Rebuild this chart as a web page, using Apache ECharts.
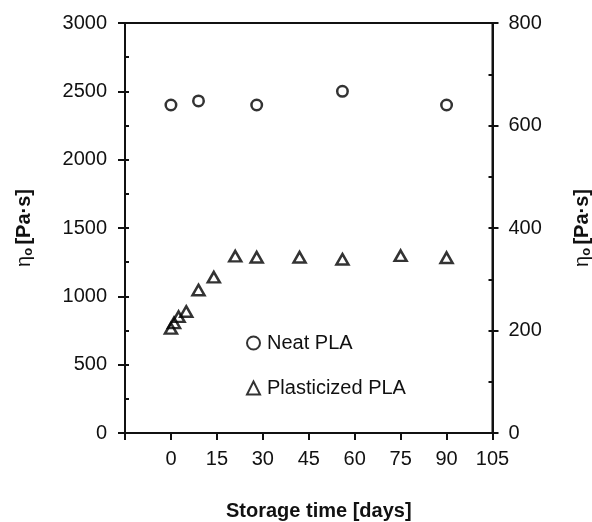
<!DOCTYPE html>
<html>
<head>
<meta charset="utf-8">
<script src="https://cdn.jsdelivr.net/npm/echarts@6/dist/echarts.min.js"></script>
<style>
  html, body { margin: 0; padding: 0; background: #fff; }
  #chart { width: 592px; height: 522px; }
</style>
</head>
<body>
<div id="chart"></div>
<script>
// Zero-shear viscosity vs. storage time
const neatDays = [0, 9, 28, 56, 90];
const neatEta = [2400, 2430, 2400, 2500, 2400];          // left axis, Pa·s

const plastDays = [0, 1, 2.5, 5, 9, 14, 21, 28, 42, 56, 75, 90];
const plastEta = [204, 215, 227, 237, 279, 304, 345, 343, 343, 339, 346, 342]; // right axis, Pa·s

const xTicks = [-15, 0, 15, 30, 45, 60, 75, 90, 105];
const leftTicks = [0, 500, 1000, 1500, 2000, 2500, 3000];
const rightTicks = [0, 200, 400, 600, 800];

const FONT = '"Liberation Sans", Arial, sans-serif';
const INK = '#111';
const MARK = '#000';

const pair = (xs, ys) => xs.map((x, i) => [x, ys[i]]);
const plain = v => String(v);

const etaName = {
  name: '{e|η}{s|o} {b|[Pa·s]}',
  nameLocation: 'middle',
  nameRotate: 90,
  nameTextStyle: {
    rich: {
      e: { fontFamily: FONT, fontSize: 20, color: INK },
      s: { fontFamily: FONT, fontSize: 13, fontWeight: 'bold', color: INK, padding: [8, 0, 0, 0] },
      b: { fontFamily: FONT, fontSize: 20, fontWeight: 'bold', color: INK }
    }
  }
};

const chart = echarts.init(document.getElementById('chart'), null, { renderer: 'canvas' });

chart.setOption({
  animation: false,
  backgroundColor: '#fff',
  grid: {
    left: 125, right: 99.5, top: 23, bottom: 89,
    containLabel: false,
    outerBoundsMode: 'none',
    show: true, borderColor: INK, borderWidth: 2, backgroundColor: 'transparent'
  },
  legend: {
    orient: 'vertical',
    left: 246, top: 333,
    padding: 0,
    itemWidth: 13, itemHeight: 13,
    itemGap: 25,
    textStyle: { fontFamily: FONT, fontSize: 20, color: INK, padding: [0, 0, 0, 2] },
    data: ['Neat PLA', 'Plasticized PLA']
  },
  xAxis: {
    type: 'value',
    min: xTicks[0], max: xTicks[xTicks.length - 1], interval: 15,
    splitLine: { show: false },
    axisLine: { onZero: false, lineStyle: { color: INK, width: 2 } },
    axisTick: { inside: false, length: 7, lineStyle: { color: INK, width: 2 } },
    axisLabel: {
      margin: 16, fontFamily: FONT, fontSize: 20, color: INK,
      formatter: v => (v === xTicks[0] ? '' : String(v))
    },
    name: 'Storage time [days]',
    nameLocation: 'middle',
    nameGap: 68,
    nameTextStyle: { fontFamily: FONT, fontSize: 20, fontWeight: 'bold', color: INK, padding: [0, 0, 0, 20] }
  },
  yAxis: [
    Object.assign({
      type: 'value', position: 'left',
      min: leftTicks[0], max: leftTicks[leftTicks.length - 1], interval: 500,
      splitLine: { show: false },
      axisLine: { onZero: false, lineStyle: { color: INK, width: 2 } },
      axisTick: { inside: false, length: 7, lineStyle: { color: INK, width: 2 } },
      axisLabel: { margin: 18, fontFamily: FONT, fontSize: 20, color: INK, formatter: plain },
      nameGap: 90
    }, etaName),
    Object.assign({
      type: 'value', position: 'right',
      min: rightTicks[0], max: rightTicks[rightTicks.length - 1], interval: 200,
      splitLine: { show: false },
      axisLine: { onZero: false, lineStyle: { color: INK, width: 2 } },
      axisTick: { inside: false, length: 6, lineStyle: { color: INK, width: 2 } },
      axisLabel: { margin: 16, fontFamily: FONT, fontSize: 20, color: INK, formatter: plain },
      nameGap: 79
    }, etaName),
    // inner tick marks (majors and minors) on the left axis
    {
      type: 'value', position: 'left',
      min: 0, max: 3000, interval: 250,
      splitLine: { show: false },
      axisLine: { show: false, onZero: false },
      axisTick: { inside: true, length: 4, lineStyle: { color: INK, width: 2 } },
      axisLabel: { show: false }
    },
    // inner tick marks on the right axis
    {
      type: 'value', position: 'right',
      min: 0, max: 800, interval: 100,
      splitLine: { show: false },
      axisLine: { show: false, onZero: false },
      axisTick: { inside: true, length: 4, lineStyle: { color: INK, width: 2 } },
      axisLabel: { show: false }
    }
  ],
  series: [
    {
      name: 'Neat PLA',
      type: 'scatter',
      yAxisIndex: 0,
      symbol: 'circle',
      symbolSize: 10.5,
      itemStyle: { color: '#fff', borderColor: MARK, borderWidth: 2.5 },
      data: pair(neatDays, neatEta)
    },
    {
      name: 'Plasticized PLA',
      type: 'scatter',
      yAxisIndex: 1,
      symbol: 'triangle',
      symbolSize: [12, 10.5],
      itemStyle: { color: 'rgba(255,255,255,0)', borderColor: MARK, borderWidth: 2.5 },
      data: pair(plastDays, plastEta)
    }
  ]
});
</script>
</body>
</html>
